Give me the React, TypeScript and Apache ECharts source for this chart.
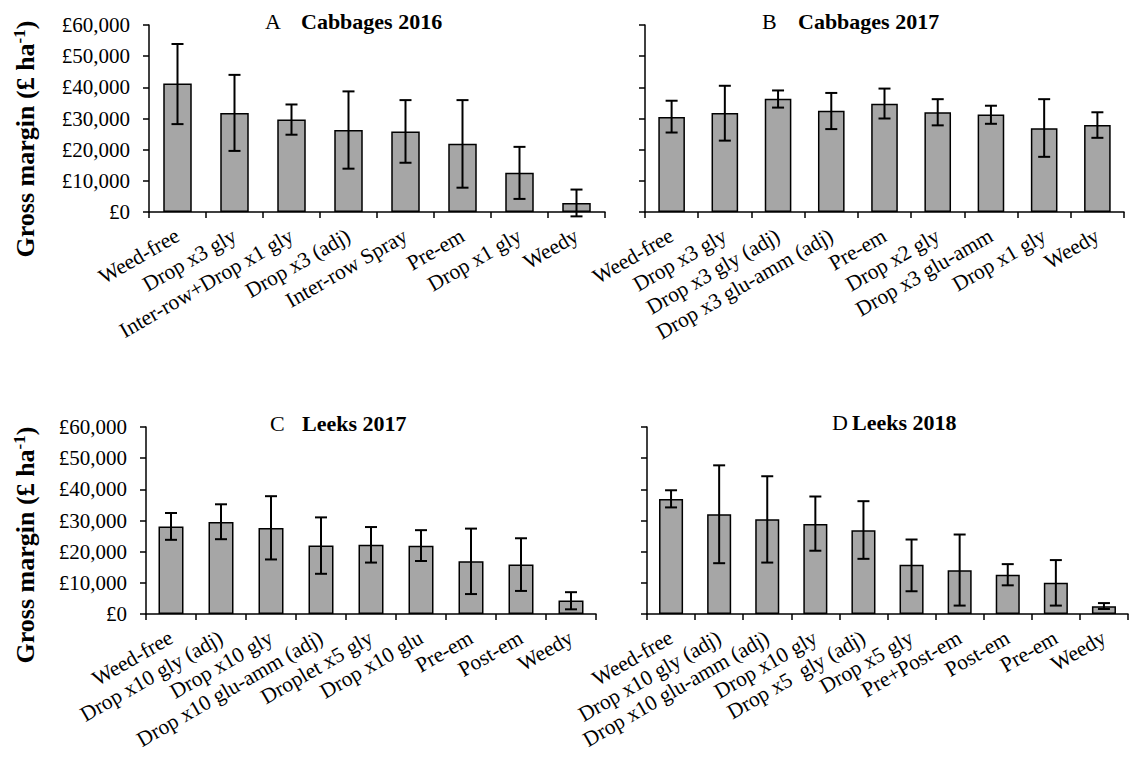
import React, { useEffect, useRef } from "react";
import * as echarts from "echarts";

// ---------- Data ----------
const catsA = ["Weed-free", "Drop x3 gly", "Inter-row+Drop x1 gly", "Drop x3 (adj)", "Inter-row Spray", "Pre-em", "Drop x1 gly", "Weedy"];
const valsA = [41200, 31800, 29700, 26300, 25800, 21900, 12600, 2900];
const lowA = [28200, 19600, 24800, 13900, 15800, 7800, 4200, -1400];
const highA = [53900, 44000, 34500, 38700, 35900, 35900, 20900, 7200];

const catsB = ["Weed-free", "Drop x3 gly", "Drop x3 gly (adj)", "Drop x3 glu-amm (adj)", "Pre-em", "Drop x2 gly", "Drop x3 glu-amm", "Drop x1 gly", "Weedy"];
const valsB = [30500, 31800, 36300, 32500, 34700, 32000, 31300, 26900, 27900];
const lowB = [25500, 22900, 33500, 26600, 30000, 27800, 28300, 17700, 23800];
const highB = [35700, 40500, 39000, 38200, 39600, 36200, 34100, 36200, 32000];

const catsC = ["Weed-free", "Drop x10 gly (adj)", "Drop x10 gly", "Drop x10 glu-amm (adj)", "Droplet x5 gly", "Drop x10 glu", "Pre-em", "Post-em", "Weedy"];
const valsC = [28100, 29500, 27600, 22000, 22200, 21900, 16900, 15900, 4300];
const lowC = [23800, 24000, 17500, 12900, 16500, 17000, 6400, 7400, 1500];
const highC = [32400, 35200, 37800, 31000, 27900, 26900, 27400, 24300, 7000];

const catsD = ["Weed-free", "Drop x10 gly (adj)", "Drop x10 glu-amm (adj)", "Drop x10 gly", "Drop x5  gly (adj)", "Drop x5 gly", "Pre+Post-em", "Post-em", "Pre-em", "Weedy"];
const valsD = [36900, 32000, 30400, 28900, 26900, 15800, 14000, 12600, 10000, 2500];
const lowD = [34200, 16300, 16500, 20300, 17700, 7300, 2700, 9200, 2700, 1600];
const highD = [39700, 47700, 44200, 37700, 36200, 23900, 25500, 16000, 17300, 3500];

const yTicksMin = 0;
const yTicksMax = 60000;
const yTickStep = 10000;

const panelLetters = ["A", "B", "C", "D"];
const panelTitles = ["Cabbages 2016", "Cabbages 2017", "Leeks 2017", "Leeks 2018"];
const yAxisTitle = "Gross margin (£ ha";
const yAxisSup = "-1";

// ---------- Layout ----------
const FONT = "'Liberation Serif', 'Times New Roman', serif";
const W = 1132;
const H = 764;

const grids = [
  { left: 149, top: 25, width: 456, height: 187 },
  { left: 645, top: 25, width: 479, height: 187 },
  { left: 146, top: 427, width: 450, height: 187 },
  { left: 647, top: 427, width: 481, height: 187 },
];

const titlePos = [
  { lx: 265, tx: 301, y: 21 },
  { lx: 762, tx: 798, y: 21 },
  { lx: 270, tx: 302, y: 423 },
  { lx: 832, tx: 852, y: 422 },
];

const panels = [
  { cats: catsA, vals: valsA, low: lowA, high: highA },
  { cats: catsB, vals: valsB, low: lowB, high: highB },
  { cats: catsC, vals: valsC, low: lowC, high: highC },
  { cats: catsD, vals: valsD, low: lowD, high: highD },
];

function fmt(v: number): string {
  return "£" + String(v).replace(/\B(?=(\d{3})+(?!\d))/g, ",");
}

export default function App() {
  const ref = useRef<HTMLDivElement>(null);

  useEffect(() => {
    if (!ref.current) return;
    const chart = echarts.init(ref.current, null, { renderer: "svg" });
    const axisLineStyle = { color: "#000", width: 1.5 };

    const option: any = {
      animation: false,
      backgroundColor: "#fff",
      grid: grids.map((g) => ({ ...g, containLabel: false })),
      xAxis: panels.map((p, i) => ({
        type: "category",
        gridIndex: i,
        data: p.cats,
        boundaryGap: true,
        axisLine: { show: true, lineStyle: axisLineStyle },
        axisTick: { show: true, length: 6, alignWithLabel: false, lineStyle: axisLineStyle },
        axisLabel: {
          interval: 0,
          rotate: 30,
          margin: 22,
          fontFamily: FONT,
          fontSize: 21.5,
          color: "#000",
        },
        splitLine: { show: false },
      })),
      yAxis: panels.map((_, i) => ({
        type: "value",
        gridIndex: i,
        min: yTicksMin,
        max: yTicksMax,
        interval: yTickStep,
        axisLine: { show: true, lineStyle: axisLineStyle },
        axisTick: { show: true, length: 6, lineStyle: axisLineStyle },
        splitLine: { show: false },
        axisLabel: {
          show: i % 2 === 0,
          formatter: (v: number) => fmt(v),
          margin: 19,
          fontFamily: FONT,
          fontSize: 21,
          color: "#000",
        },
      })),
      series: [
        ...panels.map((p, i) => ({
          type: "bar",
          xAxisIndex: i,
          yAxisIndex: i,
          data: p.vals,
          barWidth: "50%",
          itemStyle: { color: "#a6a6a6", borderColor: "#000", borderWidth: 1.5 },
        })),
        ...panels.map((p, i) => ({
          type: "custom",
          xAxisIndex: i,
          yAxisIndex: i,
          z: 10,
          data: p.cats.map((_, j) => [j, p.low[j], p.high[j]]),
          encode: { x: 0, y: [1, 2] },
          renderItem: (params: any, api: any) => {
            const lo = api.coord([api.value(0), api.value(1)]);
            const hi = api.coord([api.value(0), api.value(2)]);
            const w = 6;
            const st = { stroke: "#000", lineWidth: 2 };
            return {
              type: "group",
              children: [
                { type: "line", shape: { x1: lo[0], y1: lo[1], x2: hi[0], y2: hi[1] }, style: st },
                { type: "line", shape: { x1: lo[0] - w, y1: lo[1], x2: lo[0] + w, y2: lo[1] }, style: st },
                { type: "line", shape: { x1: hi[0] - w, y1: hi[1], x2: hi[0] + w, y2: hi[1] }, style: st },
              ],
            };
          },
        })),
      ],
      graphic: [
        ...titlePos.flatMap((t, i) => [
          {
            type: "text",
            x: t.lx,
            y: t.y,
            style: {
              text: panelLetters[i],
              font: `22px ${FONT}`,
              fill: "#000",
              verticalAlign: "middle",
              align: "left",
            },
          },
          {
            type: "text",
            x: t.tx,
            y: t.y,
            style: {
              text: panelTitles[i],
              font: `bold 22px ${FONT}`,
              fill: "#000",
              verticalAlign: "middle",
              align: "left",
            },
          },
        ]),
        ...[139, 545].map((cy) => ({
          type: "text",
          x: 25,
          y: cy,
          rotation: Math.PI / 2,
          style: {
            text: `{a|${yAxisTitle}}{s|${yAxisSup}}{a|)}`,
            align: "center",
            verticalAlign: "middle",
            fill: "#000",
            rich: {
              a: { fontFamily: FONT, fontWeight: "bold", fontSize: 26, fill: "#000", lineHeight: 29 },
              s: { fontFamily: FONT, fontWeight: "bold", fontSize: 17, fill: "#000", verticalAlign: "top", lineHeight: 17 },
            },
          },
        })),
      ],
    };

    chart.setOption(option);
    return () => chart.dispose();
  }, []);

  return (
    <div
      ref={ref}
      style={{ position: "fixed", left: 0, top: 0, width: W, height: H, background: "#fff" }}
    />
  );
}
